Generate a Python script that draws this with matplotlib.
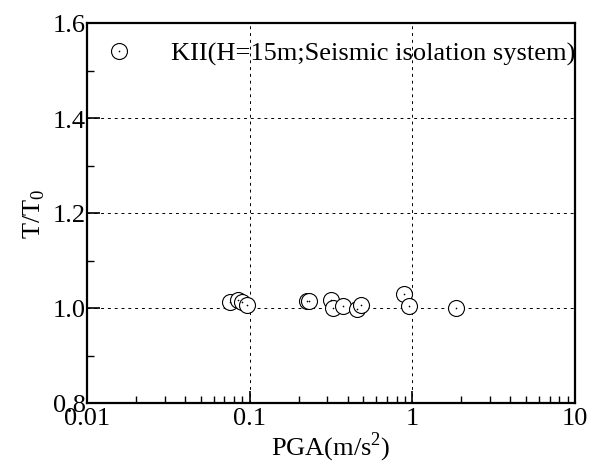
import numpy as np
import matplotlib
matplotlib.use("Agg")
import matplotlib.pyplot as plt
from matplotlib.ticker import (LogLocator, MultipleLocator, FixedLocator,
                               FixedFormatter, FormatStrFormatter)

plt.rcParams['font.family'] = ['Liberation Serif', 'DejaVu Serif']
plt.rcParams['mathtext.fontset'] = 'custom'
plt.rcParams['mathtext.rm'] = 'Liberation Serif'

# PGA (m/s^2) vs T/T0
pga = [0.0757, 0.0844, 0.0893, 0.0959, 0.224, 0.232, 0.316, 0.327,
       0.376, 0.455, 0.481, 0.888, 0.957, 1.853]
t_ratio = [1.013, 1.017, 1.012, 1.006, 1.015, 1.015, 1.017, 1.001,
           1.005, 0.998, 1.006, 1.029, 1.005, 1.001]
label = "KII(H=15m;Seismic isolation system)"

fig = plt.figure(figsize=(6.01, 4.64), dpi=100)
ax = fig.add_axes([87/601, 1 - 404/464, (575-87)/601, (404-24)/464])

h1, = ax.plot(pga, t_ratio, 'o', ms=11.5, mfc='white', mec='black', mew=0.8,
              linestyle='none', zorder=3)
h2, = ax.plot(pga, t_ratio, 'o', ms=1.2, mfc='black', mec='black', mew=0,
              linestyle='none', zorder=4)

ax.set_xscale('log')
ax.set_xlim(0.01, 10)
ax.set_ylim(0.8, 1.6)
ax.yaxis.set_major_locator(FixedLocator([0.8, 1.0, 1.2, 1.4, 1.6]))
ax.yaxis.set_minor_locator(MultipleLocator(0.1))
ax.yaxis.set_major_formatter(FormatStrFormatter('%.1f'))
ax.xaxis.set_major_locator(FixedLocator([0.01, 0.1, 1, 10]))
ax.xaxis.set_minor_locator(LogLocator(base=10, subs=np.arange(2, 10)))
ax.xaxis.set_major_formatter(FixedFormatter(['0.01', '0.1', '1', '10']))

ax.tick_params(axis='both', which='major', direction='in', length=9, width=1.2,
               labelsize=19, top=False, right=False, pad=1)
ax.tick_params(axis='x', which='major', pad=3)
ax.tick_params(axis='both', which='minor', direction='in', length=5, width=1.0,
               top=False, right=False)

for s in ax.spines.values():
    s.set_linewidth(1.6)

# dashed grid at the inner major ticks
for xv in [0.1, 1]:
    ax.axvline(xv, color='black', lw=0.7, ls=(0, (3, 4)), zorder=1)
for yv in [1.0, 1.2, 1.4]:
    ax.axhline(yv, color='black', lw=0.7, ls=(0, (3, 4)), zorder=1)

ax.set_xlabel('PGA(m/s$^2$)', fontsize=19, labelpad=0)
ax.set_ylabel('T/T$_0$', fontsize=19, labelpad=4)

leg = ax.legend([(h1, h2)], [label], loc='upper left', frameon=False,
                fontsize=19, handlelength=1.0, handletextpad=1.5,
                borderaxespad=0.3, bbox_to_anchor=(0.0, 1.0))

fig.savefig('out.png', dpi=100)
